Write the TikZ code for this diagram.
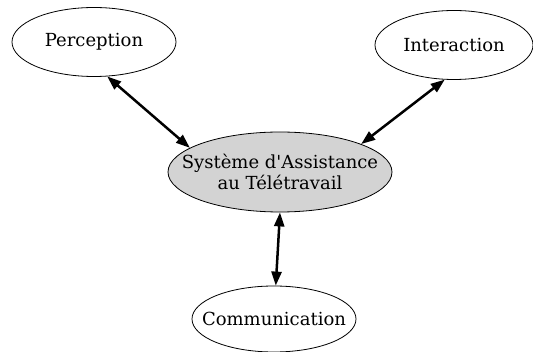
\documentclass[tikz,border=0pt]{standalone}
\usepackage{fontspec}
\setmainfont{DejaVu Serif}
\usetikzlibrary{positioning,arrows.meta,shapes.geometric}
\definecolor{coregrey}{HTML}{D3D3D3}

\begin{document}
\begin{tikzpicture}[
    x=1pt, y=-1pt,
    topic/.style={draw, line width=0.8pt, ellipse, inner xsep=-30pt, inner ysep=0pt, minimum width=164pt, minimum height=69pt, font=\fontsize{18}{21}\selectfont, align=center},
    core/.style={topic, fill=coregrey, minimum width=224pt, minimum height=80pt},
    link/.style={{Triangle[length=14pt,width=10pt]}-{Triangle[length=14pt,width=10pt]}, line width=2.5pt}
]
\useasboundingbox (0,0) rectangle (533,352);

% Nodes
\node[core] (systeme) at (280,172) {Système d\textquotesingle Assistance\\au Télétravail};
\node[topic] (perception) at (94,42) {Perception};
\node[topic, minimum width=158pt] (interaction) at (454,45) {Interaction};
\node[topic, minimum height=66pt] (communication) at (274,319) {Communication};

% Arrows
\draw[link] (perception.-69) -- (systeme.165);
\draw[link] (interaction.-105) -- (systeme.19);
\draw[link] (communication.87) -- (systeme.-90);

\end{tikzpicture}
\end{document}
